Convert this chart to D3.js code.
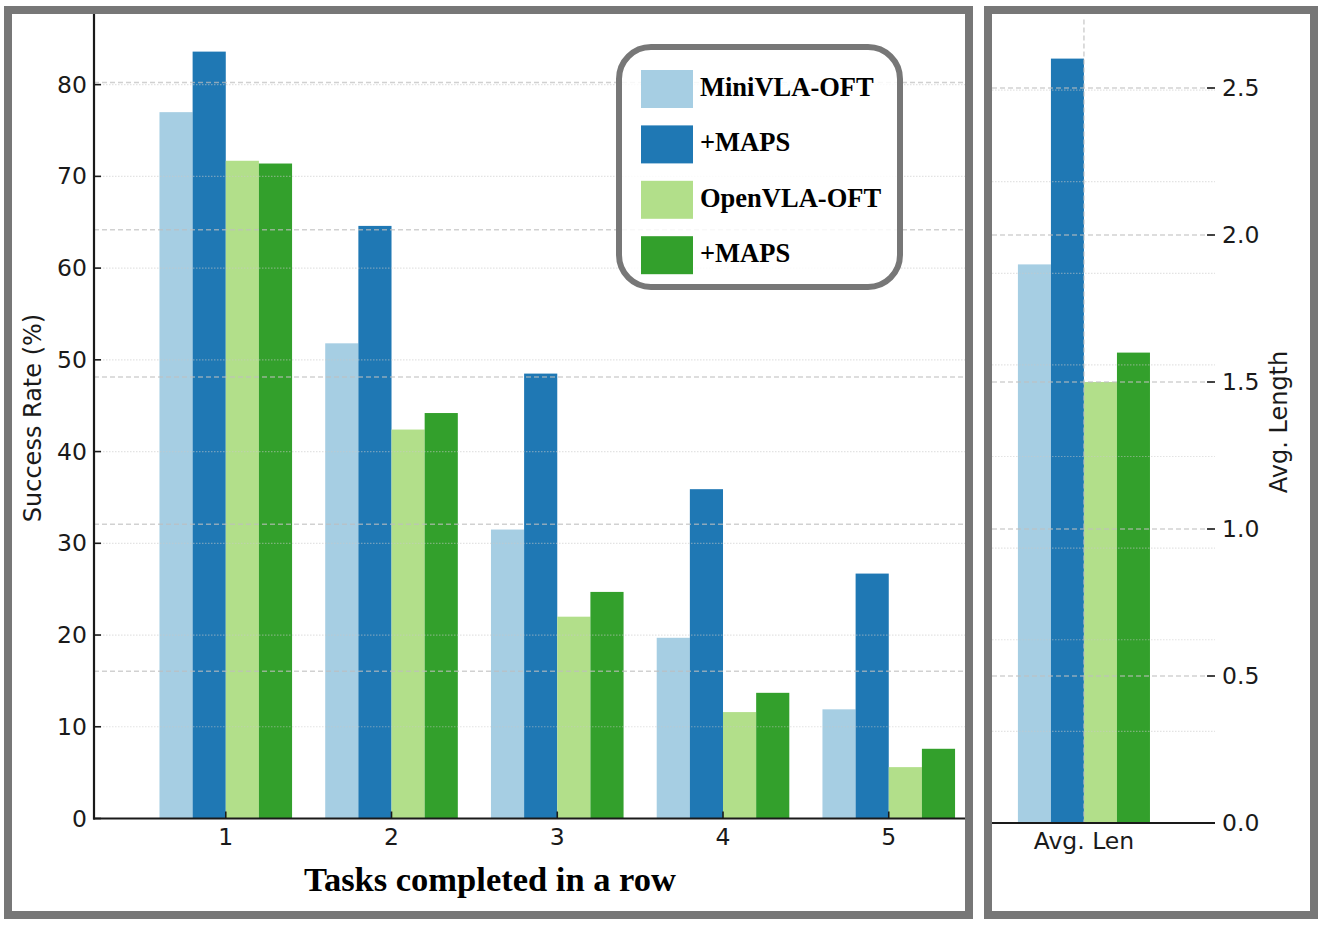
<!DOCTYPE html>
<html>
<head>
<meta charset="utf-8">
<script src="https://cdn.jsdelivr.net/npm/d3@7"></script>
<style>
  html, body { margin: 0; padding: 0; background: #fff; }
  svg { display: block; }
</style>
</head>
<body>
<svg id="chart" width="1324" height="926"></svg>
<script>
// ---------------- data ----------------
const categories = [1, 2, 3, 4, 5];
const seriesNames = ["MiniVLA-OFT", "+MAPS", "OpenVLA-OFT", "+MAPS"];
const seriesColors = ["#a6cee3", "#1f78b4", "#b2df8a", "#33a02c"];
const miniVLA      = [77.0, 51.8, 31.5, 19.7, 11.9];
const miniVLAMaps  = [83.6, 64.6, 48.5, 35.9, 26.7];
const openVLA      = [71.7, 42.4, 22.0, 11.6, 5.6];
const openVLAMaps  = [71.4, 44.2, 24.7, 13.7, 7.6];
const avgLenCategory = ["Avg. Len"];
const avgLength    = [1.90, 2.60, 1.50, 1.60];
const successTicks = [0, 10, 20, 30, 40, 50, 60, 70, 80];
const lengthTicks  = [0.0, 0.5, 1.0, 1.5, 2.0, 2.5];
const xLabel = "Tasks completed in a row";
const yLabelLeft = "Success Rate (%)";
const yLabelRight = "Avg. Length";

const seriesValues = [miniVLA, miniVLAMaps, openVLA, openVLAMaps];

// ---------------- layout ----------------
const svg = d3.select("#chart");
const FRAME = "#777777";
const tickFont = "'DejaVu Sans', sans-serif";
const serifFont = "'Liberation Serif', 'Times New Roman', serif";
const barW = 0.2;

// frames
svg.append("rect").attr("x", 8).attr("y", 10).attr("width", 961).attr("height", 905)
  .attr("fill", "#fff").attr("stroke", FRAME).attr("stroke-width", 8);
svg.append("rect").attr("x", 988).attr("y", 10).attr("width", 326).attr("height", 905)
  .attr("fill", "#fff").attr("stroke", FRAME).attr("stroke-width", 8);

// ---------- left panel scales ----------
const L = { left: 94, right: 965, top: 14, bottom: 818.5 };
const xL = d3.scaleLinear().domain([0.205, 5.46]).range([L.left, L.right]);
const yL = d3.scaleLinear().domain([0, 87.7]).range([L.bottom, L.top]);
const yL2 = d3.scaleLinear().domain([0, 2.733]).range([L.bottom, L.top]);

// ---------- right panel scales ----------
const R = { left: 992, right: 1215, top: 19.5, bottom: 823 };
const xR = d3.scaleLinear().domain([-0.557, 0.794]).range([R.left, R.right]);
const yR = d3.scaleLinear().domain([0, 2.733]).range([R.bottom, R.top]);
const yR2 = d3.scaleLinear().domain([0, 87.7]).range([R.bottom, R.top]);

// ---------- left bars ----------
const gL = svg.append("g");
seriesValues.forEach((vals, i) => {
  gL.selectAll(null).data(categories).enter().append("rect")
    .attr("x", (c) => xL(c + (i - 2) * barW))
    .attr("width", (c) => xL(c + (i - 1) * barW) - xL(c + (i - 2) * barW))
    .attr("y", (c, k) => yL(vals[k]))
    .attr("height", (c, k) => yL(0) - yL(vals[k]))
    .attr("fill", seriesColors[i]);
});

// left grids (drawn over bars, semi transparent)
gL.selectAll(null).data(successTicks.filter(t => t > 0)).enter().append("line")
  .attr("x1", L.left).attr("x2", L.right)
  .attr("y1", d => yL(d)).attr("y2", d => yL(d))
  .attr("stroke", "#c8c8c8").attr("stroke-opacity", 0.5).attr("stroke-width", 1.2)
  .attr("stroke-dasharray", "1.5,1.5");
gL.selectAll(null).data(lengthTicks.filter(t => t > 0)).enter().append("line")
  .attr("x1", L.left).attr("x2", L.right)
  .attr("y1", d => yL2(d)).attr("y2", d => yL2(d))
  .attr("stroke", "#bdbdbd").attr("stroke-opacity", 0.7).attr("stroke-width", 1.5)
  .attr("stroke-dasharray", "5,3");

// left spines
gL.append("line").attr("x1", L.left).attr("x2", L.left).attr("y1", L.top).attr("y2", L.bottom + 1)
  .attr("stroke", "#1a1a1a").attr("stroke-width", 2.2);
gL.append("line").attr("x1", L.left - 1).attr("x2", L.right).attr("y1", L.bottom).attr("y2", L.bottom)
  .attr("stroke", "#1a1a1a").attr("stroke-width", 2.2);

// left y ticks (inward)
const yTicksG = gL.selectAll(null).data(successTicks).enter().append("g");
yTicksG.append("line").attr("x1", L.left).attr("x2", L.left + 7)
  .attr("y1", d => yL(d)).attr("y2", d => yL(d)).attr("stroke", "#1a1a1a").attr("stroke-width", 1.6);
yTicksG.append("text").attr("x", L.left - 7).attr("y", d => yL(d))
  .attr("text-anchor", "end").attr("dominant-baseline", "central")
  .attr("font-family", tickFont).attr("font-size", 23.5).attr("fill", "#1a1a1a")
  .text(d => d);

// left x ticks (inward)
const xTicksG = gL.selectAll(null).data(categories).enter().append("g");
xTicksG.append("line").attr("x1", d => xL(d)).attr("x2", d => xL(d))
  .attr("y1", L.bottom).attr("y2", L.bottom - 7).attr("stroke", "#1a1a1a").attr("stroke-width", 1.6);
xTicksG.append("text").attr("x", d => xL(d)).attr("y", 845)
  .attr("text-anchor", "middle")
  .attr("font-family", tickFont).attr("font-size", 23.5).attr("fill", "#1a1a1a")
  .text(d => d);

// left labels
svg.append("text").attr("transform", "translate(41,418) rotate(-90)")
  .attr("text-anchor", "middle")
  .attr("font-family", tickFont).attr("font-size", 24).attr("fill", "#1a1a1a")
  .text(yLabelLeft);
svg.append("text").attr("x", 490).attr("y", 891)
  .attr("text-anchor", "middle")
  .attr("font-family", serifFont).attr("font-weight", "bold").attr("font-size", 34.5).attr("fill", "#000")
  .text(xLabel);

// ---------- legend ----------
const lg = svg.append("g");
lg.append("rect").attr("x", 619).attr("y", 47).attr("width", 281).attr("height", 240)
  .attr("rx", 32).attr("ry", 32)
  .attr("fill", "#fff").attr("fill-opacity", 0.85).attr("stroke", FRAME).attr("stroke-width", 6);
const legendItems = lg.selectAll(null).data(seriesNames).enter().append("g")
  .attr("transform", (d, i) => `translate(641,${89 + i * 55.4})`);
legendItems.append("rect").attr("x", 0).attr("y", -19).attr("width", 52).attr("height", 38)
  .attr("fill", (d, i) => seriesColors[i]);
legendItems.append("text").attr("x", 59).attr("y", -2)
  .attr("dominant-baseline", "central")
  .attr("font-family", serifFont).attr("font-weight", "bold").attr("font-size", 26.5).attr("fill", "#000")
  .text(d => d);

// ---------- right panel ----------
const gR = svg.append("g");
avgLength.forEach((v, i) => {
  gR.append("rect")
    .attr("x", xR(0 + (i - 2) * barW))
    .attr("width", xR(0 + (i - 1) * barW) - xR(0 + (i - 2) * barW))
    .attr("y", yR(v))
    .attr("height", yR(0) - yR(v))
    .attr("fill", seriesColors[i]);
});
// grids
gR.selectAll(null).data(successTicks.filter(t => t > 0)).enter().append("line")
  .attr("x1", R.left).attr("x2", R.right)
  .attr("y1", d => yR2(d)).attr("y2", d => yR2(d))
  .attr("stroke", "#c8c8c8").attr("stroke-opacity", 0.5).attr("stroke-width", 1.2)
  .attr("stroke-dasharray", "1.5,1.5");
gR.selectAll(null).data(lengthTicks.filter(t => t > 0)).enter().append("line")
  .attr("x1", R.left).attr("x2", R.right)
  .attr("y1", d => yR(d)).attr("y2", d => yR(d))
  .attr("stroke", "#bdbdbd").attr("stroke-opacity", 0.7).attr("stroke-width", 1.5)
  .attr("stroke-dasharray", "5,3");
gR.append("line").attr("x1", xR(0)).attr("x2", xR(0)).attr("y1", R.top).attr("y2", R.bottom)
  .attr("stroke", "#bdbdbd").attr("stroke-opacity", 0.7).attr("stroke-width", 1.5)
  .attr("stroke-dasharray", "5,3");
// bottom spine
gR.append("line").attr("x1", R.left).attr("x2", R.right).attr("y1", R.bottom).attr("y2", R.bottom)
  .attr("stroke", "#1a1a1a").attr("stroke-width", 2.2);
// right ticks
const rT = gR.selectAll(null).data(lengthTicks).enter().append("g");
rT.append("line").attr("x1", R.right - 8).attr("x2", R.right)
  .attr("y1", d => yR(d)).attr("y2", d => yR(d)).attr("stroke", "#1a1a1a").attr("stroke-width", 1.6);
rT.append("text").attr("x", R.right + 7).attr("y", d => yR(d))
  .attr("dominant-baseline", "central")
  .attr("font-family", tickFont).attr("font-size", 23.5).attr("fill", "#1a1a1a")
  .text(d => d3.format(".1f")(d));
// category label
gR.append("text").attr("x", xR(0)).attr("y", 849).attr("text-anchor", "middle")
  .attr("font-family", tickFont).attr("font-size", 23.5).attr("fill", "#1a1a1a")
  .text(avgLenCategory[0]);
// right y label
svg.append("text").attr("transform", "translate(1287,422) rotate(-90)")
  .attr("text-anchor", "middle")
  .attr("font-family", tickFont).attr("font-size", 24).attr("fill", "#1a1a1a")
  .text(yLabelRight);
</script>
</body>
</html>
